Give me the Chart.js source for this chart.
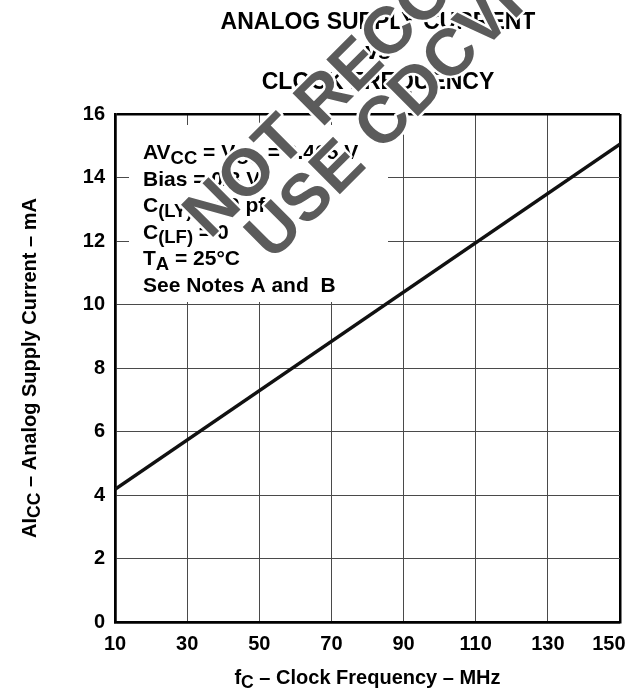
<!DOCTYPE html>
<html lang="en">
<head>
    <meta charset="UTF-8" />
    <title>Analog Supply Current vs Clock Frequency</title>
    <style>
        * {
            margin: 0;
            padding: 0;
        }

        body {
            background: #ffffff;
        }

        .chartBox {
            width: 632px;
            height: 689px;
        }
    </style>
</head>
<body>
    <div class="chartBox">
        <canvas id="myChart"></canvas>
    </div>
    <script src="https://cdn.jsdelivr.net/npm/chart.js@4.4.1/dist/chart.umd.min.js"></script>
    <script>
        // values
        const freqMHz = [10, 150];
        const supplyCurrent = [4.18, 15.05];

        const xTicks = [10, 30, 50, 70, 90, 110, 130, 150];
        const yTicks = [0, 2, 4, 6, 8, 10, 12, 14, 16];

        const titleLines = ["ANALOG SUPPLY CURRENT", "vs", "CLOCK FREQUENCY"];
        // [text, subscript?]
        const noteLines = [
            [["AV", false], ["CC", true], [" = V", false], ["CC", true], [" = 3.465 V", false]],
            [["Bias = 0/3 V", false]],
            [["C", false], ["(LY)", true], [" = 30 pf", false]],
            [["C", false], ["(LF)", true], [" = 0", false]],
            [["T", false], ["A", true], [" = 25\u00B0C", false]],
            [["See Notes A and  B", false]]
        ];
        const xTitle = [["f", false], ["C", true], [" \u2013 Clock Frequency \u2013 MHz", false]];
        const yTitle = [["AI", false], ["CC", true], [" \u2013 Analog Supply Current \u2013 mA", false]];
        const watermark = ["NOT RECOMMENDED FOR NEW DESIGNS", "USE CDCVF2509A AS A REPLACEMENT"];

        const FAM = '"Liberation Sans", Arial, Helvetica, sans-serif';
        Chart.defaults.font.family = FAM;
        Chart.defaults.color = "#000";

        function richText(ctx, parts, x, y, size, align) {
            let w = 0;
            parts.forEach(p => {
                ctx.font = "bold " + (p[1] ? size * 0.88 : size) + "px " + FAM;
                w += ctx.measureText(p[0]).width;
            });
            let cx = align === "center" ? x - w / 2 : x;
            ctx.textAlign = "left";
            ctx.textBaseline = "alphabetic";
            parts.forEach(p => {
                ctx.font = "bold " + (p[1] ? size * 0.88 : size) + "px " + FAM;
                ctx.fillText(p[0], cx, y + (p[1] ? size * 0.22 : 0));
                cx += ctx.measureText(p[0]).width;
            });
        }

        const textPlugin = {
            id: "textPlugin",
            beforeDatasetsDraw(chart) {
                // white notes box hides the grid
                const ctx = chart.ctx;
                ctx.save();
                ctx.fillStyle = "#fff";
                ctx.fillRect(129, 125, 259, 177);
                ctx.restore();
            },
            afterDraw(chart) {
                const ctx = chart.ctx;
                ctx.save();
                ctx.fillStyle = "#000";
                ctx.textAlign = "center";
                ctx.font = "bold 23px " + FAM;
                ctx.fillText(titleLines[0], 378, 29);
                ctx.fillText(titleLines[1], 378, 59);
                ctx.fillText(titleLines[2], 378, 89);

                noteLines.forEach((line, i) => {
                    richText(ctx, line, 143, 159 + i * 26.6, 21, "left");
                });

                const area = chart.chartArea;
                richText(ctx, xTitle, (area.left + area.right) / 2, 684, 20, "center");

                ctx.save();
                ctx.translate(36, (area.top + area.bottom) / 2);
                ctx.rotate(-Math.PI / 2);
                richText(ctx, yTitle, 0, 0, 20, "center");
                ctx.restore();

                // watermark
                ctx.font = "bold 66px " + FAM;
                ctx.textAlign = "left";
                ctx.lineJoin = "round";
                const starts = [[210, 240], [272, 262]];
                watermark.forEach((t, i) => {
                    ctx.save();
                    ctx.translate(starts[i][0], starts[i][1]);
                    ctx.rotate(-Math.PI / 4);
                    ctx.strokeStyle = "#fff";
                    ctx.lineWidth = 5;
                    ctx.strokeText(t, 0, 0);
                    ctx.fillStyle = "#5b5b5b";
                    ctx.fillText(t, 0, 0);
                    ctx.restore();
                });
                ctx.restore();
            }
        };

        const data = {
            datasets: [{
                data: freqMHz.map((f, i) => ({ x: f, y: supplyCurrent[i] })),
                borderColor: "#111",
                borderWidth: 3.5,
                pointRadius: 0,
                showLine: true,
                tension: 0
            }]
        };

        const edgeX = (c) => c.tick && (c.tick.value === 10 || c.tick.value === 150);
        const edgeY = (c) => c.tick && (c.tick.value === 0 || c.tick.value === 16);

        const options = {
            responsive: true,
            maintainAspectRatio: false,
            animation: false,
            layout: {
                padding: { top: 114, right: 12, left: 0, bottom: 0 }
            },
            scales: {
                x: {
                    type: "linear",
                    min: 10,
                    max: 150,
                    afterBuildTicks: (scale) => {
                        scale.ticks = xTicks.map(v => ({ value: v }));
                    },
                    afterFit: (scale) => {
                        scale.height = 67;
                        scale.paddingLeft = 0;
                        scale.paddingRight = 0;
                    },
                    border: { display: true, color: "#000", width: 2.5 },
                    grid: {
                        drawTicks: false,
                        color: (c) => edgeX(c) ? "#000" : "#4a4a4a",
                        lineWidth: (c) => edgeX(c) ? 2.5 : 1
                    },
                    ticks: {
                        autoSkip: false,
                        maxRotation: 0,
                        padding: 10,
                        color: "#000",
                        font: { size: 20, weight: "bold" },
                        callback: (v) => v === 150 ? v + "    " : String(v)
                    },
                    title: { display: false }
                },
                y: {
                    min: 0,
                    max: 16,
                    afterBuildTicks: (scale) => {
                        scale.ticks = yTicks.map(v => ({ value: v }));
                    },
                    afterFit: (scale) => {
                        scale.width = 115;
                    },
                    border: { display: true, color: "#000", width: 2.5 },
                    grid: {
                        drawTicks: false,
                        color: (c) => edgeY(c) ? "#000" : "#4a4a4a",
                        lineWidth: (c) => edgeY(c) ? 2.5 : 1
                    },
                    ticks: {
                        padding: 10,
                        color: "#000",
                        font: { size: 20, weight: "bold" }
                    },
                    title: { display: false }
                }
            },
            plugins: {
                legend: { display: false },
                tooltip: { enabled: false }
            }
        };

        const config = {
            type: "scatter",
            data: data,
            plugins: [textPlugin],
            options: options
        };

        const ctx = document.getElementById("myChart").getContext("2d");
        const myChart = new Chart(ctx, config);
    </script>
</body>
</html>
